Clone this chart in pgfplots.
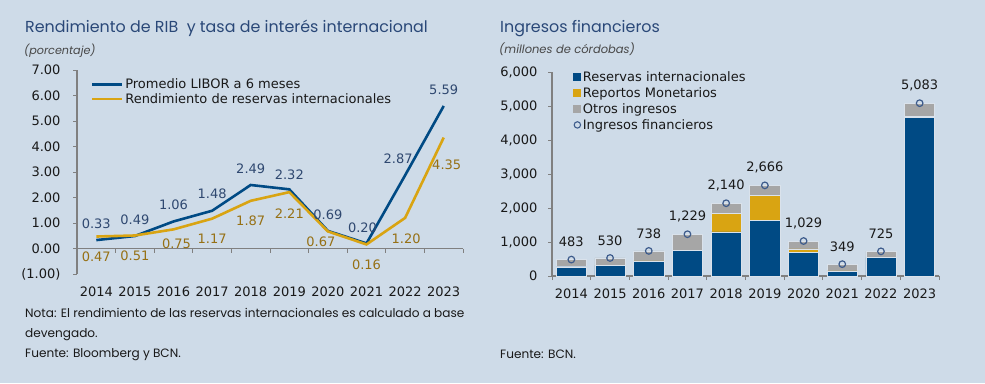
\documentclass[border=0pt]{standalone}
\usepackage{pgfplots}
\pgfplotsset{compat=1.18}
\usepackage{pgfplotstable}
\usepackage{fontspec}
\setmainfont{DejaVu Sans}
\newfontfamily\titlefont{Poppins}

\definecolor{bg}{RGB}{206,219,232}
\definecolor{libor}{RGB}{0,74,132}
\definecolor{gold}{RGB}{217,164,18}
\definecolor{liborlab}{RGB}{47,72,112}
\definecolor{goldlab}{RGB}{150,112,20}
\definecolor{axgray}{RGB}{128,128,128}
\definecolor{bargray}{RGB}{166,166,166}
\definecolor{circ}{RGB}{62,92,140}
\definecolor{titleblue}{RGB}{42,72,120}
\definecolor{barline}{RGB}{218,226,235}
\definecolor{txt}{RGB}{25,25,25}

\pgfplotstableread{
x y dx dy
0 0.33 0 16
1 0.49 0 16
2 1.06 0 17
3 1.48 0 17
4 2.49 0 16
5 2.32 0 15
6 0.69 0 16
7 0.20 -4 16
8 2.87 -7 17
9 5.59 0 16
}\libor

\pgfplotstableread{
x y dx dy
0 0.47 0 -20
1 0.51 0 -20
2 0.75 3 -14
3 1.17 0 -20
4 1.87 0 -20
5 2.21 0 -22
6 0.67 -7 -10
7 0.16 0 -20
8 1.20 1 -21
9 4.35 3 -27
}\rend

\pgfplotstableread{
x res rep otr tot
0 270 10 203 483
1 310 10 210 530
2 440 5 293 738
3 745 0 484 1229
4 1300 530 310 2140
5 1625 735 306 2666
6 685 115 229 1029
7 125 25 199 349
8 540 10 175 725
9 4660 25 398 5083
}\bars

\newcommand{\fs}{\fontsize{13bp}{15bp}\selectfont}
\newcommand{\notefont}{\titlefont\fontsize{12.1bp}{14bp}\selectfont}

\begin{document}
\begin{tikzpicture}[x=1bp,y=1bp]
\useasboundingbox (0,0) rectangle (985,383);
\fill[bg] (0,0) rectangle (985,383);

% ---------- left texts ----------
\node[anchor=base west, inner sep=0, text=titleblue, font=\titlefont\fontsize{15.9bp}{17bp}\selectfont] at (25,351) {Rendimiento de RIB\ \ y tasa de interés internacional};
\node[anchor=base west, inner sep=0, text=txt!80, font=\titlefont\itshape\fontsize{11.2bp}{13bp}\selectfont] at (24,329) {(porcentaje)};
\node[anchor=base west, inner sep=0, text=txt, font=\notefont] at (25,66) {Nota: El rendimiento de las reservas internacionales es calculado a base};
\node[anchor=base west, inner sep=0, text=txt, font=\notefont] at (25,46) {devengado.};
\node[anchor=base west, inner sep=0, text=txt, font=\notefont] at (25,26) {Fuente: Bloomberg y BCN.};

% ---------- right texts ----------
\node[anchor=base west, inner sep=0, text=titleblue, font=\titlefont\fontsize{15.9bp}{17bp}\selectfont] at (500,351) {Ingresos financieros};
\node[anchor=base west, inner sep=0, text=txt!80, font=\titlefont\itshape\fontsize{11.5bp}{13bp}\selectfont] at (499,330) {(millones de córdobas)};
\node[anchor=base west, inner sep=0, text=txt, font=\notefont] at (500,25) {Fuente: BCN.};

% ---------- left chart ----------
\begin{axis}[
  at={(77bp,109bp)}, anchor=south west, scale only axis,
  width=386bp, height=204bp,
  xmin=-0.5, xmax=9.5, ymin=-1, ymax=7,
  /pgf/number format/assume math mode=true,
  axis x line=middle, axis y line=left,
  axis line style={-, draw=axgray, line width=1.3bp},
  hide obscured x ticks=false, hide obscured y ticks=false,
  xtick={0,...,9},
  xticklabels={2014,2015,2016,2017,2018,2019,2020,2021,2022,2023},
  minor xtick={-0.5,0.5,...,9.5},
  major x tick style={draw=none},
  ytick={-1,0,...,7},
  yticklabels={(1.00),0.00,1.00,2.00,3.00,4.00,5.00,6.00,7.00},
  tick align=outside,
  major tick length=4bp, minor tick length=4bp,
  tick style={draw=axgray, line width=1bp},
  every tick label/.append style={font=\fs, text=txt},
  xticklabel style={yshift=-31bp},
  yticklabel style={xshift=-9bp},
  clip=false,
  legend style={at={(axis description cs:0.0285,0.975)}, anchor=north west,
    draw=none, fill=none, font=\fs, text=txt, row sep=0bp,
    nodes={inner sep=1.5bp}, cells={anchor=west}},
  legend image code/.code={\draw[#1, line width=2.6bp] (0bp,0bp) -- (30bp,0bp);},
  visualization depends on={\thisrow{dx} \as \dx},
  visualization depends on={\thisrow{dy} \as \dy},
  nodes near coords={\pgfmathprintnumber[fixed,fixed zerofill,precision=2,assume math mode=true]{\pgfplotspointmeta}},
  every node near coord/.append style={anchor=center, font=\fs, xshift={\dx*1bp}, yshift={\dy*1bp}},
]
\addplot[libor, line width=2.6bp, mark=none, nodes near coords style={text=liborlab}] table[x=x,y=y]{\libor};
\addlegendentry{Promedio LIBOR a 6 meses}
\addplot[gold, line width=2.6bp, mark=none, nodes near coords style={text=goldlab}] table[x=x,y=y]{\rend};
\addlegendentry{Rendimiento de reservas internacionales}
\end{axis}

% ---------- right chart ----------
\begin{axis}[
  at={(552bp,107bp)}, anchor=south west, scale only axis,
  width=387bp, height=204bp,
  xmin=-0.5, xmax=9.5, ymin=0, ymax=6000,
  /pgf/number format/assume math mode=true,
  ybar stacked, bar width=0.78,
  axis x line=bottom, axis y line=left,
  axis line style={-, draw=axgray, line width=1.3bp},
  xtick={0,...,9},
  xticklabels={2014,2015,2016,2017,2018,2019,2020,2021,2022,2023},
  minor xtick={-0.5,0.5,...,9.5},
  major x tick style={draw=none},
  ytick={0,1000,...,6000},
  scaled y ticks=false,
  yticklabel={\pgfmathprintnumber[1000 sep={,},assume math mode=true]{\tick}},
  tick align=outside,
  major tick length=4bp, minor tick length=4bp,
  tick style={draw=axgray, line width=1bp},
  every tick label/.append style={font=\fs, text=txt},
  xticklabel style={yshift=-5bp},
  yticklabel style={xshift=-7bp},
  legend style={at={(axis description cs:0.047,1.02)}, anchor=north west,
    draw=none, fill=none, font=\fs, text=txt, row sep=1.5bp,
    nodes={inner sep=1.5bp}, cells={anchor=west}},
  legend image code/.code={\fill[#1, draw=none] (0bp,-4bp) rectangle (8bp,4bp);},
]
\addplot[fill=libor, draw=barline, line width=0.6bp] table[x=x,y=res]{\bars};
\addlegendentry{Reservas internacionales}
\addplot[fill=gold, draw=barline, line width=0.6bp] table[x=x,y=rep]{\bars};
\addlegendentry{Reportos Monetarios}
\addplot[fill=bargray, draw=barline, line width=0.6bp] table[x=x,y=otr]{\bars};
\addlegendentry{Otros ingresos}
\addlegendimage{legend image code/.code={\draw[circ, line width=1.1bp] (4bp,0bp) circle (3.2bp);}}
\addlegendentry{Ingresos financieros}
\end{axis}

\begin{axis}[
  at={(552bp,107bp)}, anchor=south west, scale only axis,
  width=387bp, height=204bp,
  xmin=-0.5, xmax=9.5, ymin=0, ymax=6000,
  hide axis, clip=false,
  nodes near coords={\pgfmathprintnumber[1000 sep={,},assume math mode=true]{\pgfplotspointmeta}},
  every node near coord/.append style={anchor=center, font=\fs, text=txt, yshift=17.5bp},
]
\addplot[only marks, mark=o, mark size=3.3bp, mark options={draw=circ, line width=1.2bp, fill=none}, point meta=y] table[x=x,y=tot]{\bars};
\end{axis}
\end{tikzpicture}
\end{document}
